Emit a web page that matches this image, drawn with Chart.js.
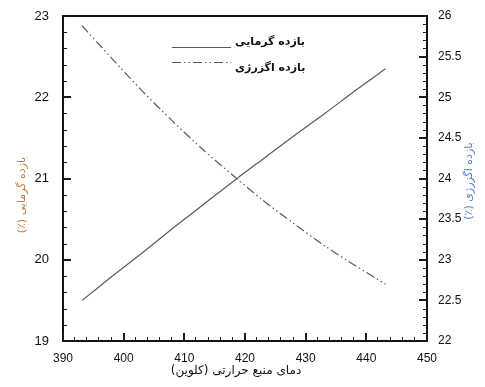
<!DOCTYPE html>
<html>
<head>
<meta charset="utf-8">
<script src="https://cdn.jsdelivr.net/npm/chart.js@4.4.0/dist/chart.umd.min.js"></script>
<style>
html,body{margin:0;padding:0;background:#fff;}
#wrap{width:485px;height:387px;}
</style>
</head>
<body>
<div id="wrap"><canvas id="c" width="485" height="387"></canvas></div>
<script>
// ---- data ----
const temperatures = [393.15, 398.15, 403.15, 408.15, 413.15, 418.15, 423.15, 428.15, 433.15, 438.15, 443.15];
const thermalEfficiency = [19.50, 19.80, 20.09, 20.39, 20.68, 20.97, 21.25, 21.53, 21.80, 22.08, 22.35];
const exergyEfficiency = [25.88, 25.47, 25.07, 24.70, 24.35, 24.03, 23.72, 23.44, 23.17, 22.93, 22.70];
const seriesLabels = ['بازده گرمایی', 'بازده اگزرژی'];
const xTitle = 'دمای منبع حرارتی (کلوین)';
const yLeftTitle = 'بازده گرمایی (٪)';
const yRightTitle = 'بازده اگزرژی (٪)';
const xTicks = {min: 390, max: 450, major: 10, minor: 2};
const yLeftTicks = {min: 19, max: 23, major: 1, minor: 0.2};
const yRightTicks = {min: 22, max: 26, major: 0.5, minor: 0.1};

const LINE = '#5a5a5a';
const ARFONT = '"DejaVu Sans", sans-serif';
const NUMFONT = '"Liberation Sans", Arial, sans-serif';

const pts = (xs, ys) => xs.map((x, i) => ({x: x, y: ys[i]}));

function tickValues(cfg) {
  const out = [];
  const n = Math.round((cfg.max - cfg.min) / cfg.minor);
  const per = Math.round(cfg.major / cfg.minor);
  for (let i = 0; i <= n; i++) out.push({v: cfg.min + i * cfg.minor, major: i % per === 0});
  return out;
}

const framePlugin = {
  id: 'frameTicks',
  beforeDraw(chart) {
    const ctx = chart.ctx;
    ctx.save();
    ctx.fillStyle = '#fff';
    ctx.fillRect(0, 0, chart.width, chart.height);
    ctx.restore();
  },
  afterDraw(chart) {
    const ctx = chart.ctx;
    const a = chart.chartArea;
    const sx = chart.scales.x, yl = chart.scales.y, yr = chart.scales.y1;
    ctx.save();
    ctx.setLineDash([]);
    ctx.strokeStyle = '#111';
    ctx.lineWidth = 2;
    ctx.strokeRect(a.left, a.top, a.right - a.left, a.bottom - a.top);
    // inward tick marks
    ctx.fillStyle = '#1a1a1a';
    const L = Math.round(a.left), R = Math.round(a.right), B = Math.round(a.bottom);
    tickValues(xTicks).forEach(t => {
      const p = Math.round(sx.getPixelForValue(t.v));
      if (t.major) ctx.fillRect(p - 1, B - 8, 2, 8);
      else ctx.fillRect(p - 1, B - 4, 1, 4);
    });
    tickValues(yLeftTicks).forEach(t => {
      const p = Math.round(yl.getPixelForValue(t.v));
      if (t.major) ctx.fillRect(L, p - 1, 8, 2);
      else ctx.fillRect(L, p, 4, 1);
    });
    tickValues(yRightTicks).forEach(t => {
      const p = Math.round(yr.getPixelForValue(t.v));
      if (t.major) ctx.fillRect(R - 8, p - 1, 8, 2);
      else ctx.fillRect(R - 4, p, 4, 1);
    });

    // titles (RTL text)
    ctx.direction = 'rtl';
    ctx.textBaseline = 'middle';
    ctx.textAlign = 'center';
    ctx.font = '12px ' + ARFONT;
    ctx.fillStyle = '#111';
    ctx.fillText(xTitle, 236, 371);

    ctx.font = '11px ' + ARFONT;
    ctx.save();
    ctx.translate(22, 195);
    ctx.rotate(-Math.PI / 2);
    ctx.fillStyle = '#c27a3e';
    ctx.fillText(yLeftTitle, 0, 0);
    ctx.restore();

    ctx.save();
    ctx.translate(469, 181);
    ctx.rotate(-Math.PI / 2);
    ctx.fillStyle = '#4f7fbf';
    ctx.fillText(yRightTitle, 0, 0);
    ctx.restore();

    // legend
    const ds = chart.data.datasets;
    const rows = [{ly: 47.5, ty: 42.5}, {ly: 62.5, ty: 68}];
    ds.forEach((d, i) => {
      ctx.save();
      ctx.strokeStyle = d.borderColor;
      ctx.lineWidth = d.borderWidth;
      ctx.setLineDash(d.borderDash || []);
      ctx.beginPath();
      ctx.moveTo(172, rows[i].ly); ctx.lineTo(231, rows[i].ly);
      ctx.stroke();
      ctx.restore();
      ctx.font = 'bold 11px ' + ARFONT;
      ctx.fillStyle = '#111';
      ctx.textAlign = 'left';
      ctx.fillText(d.label, 235, rows[i].ty);
    });
    ctx.restore();
  }
};

const fmt = v => String(Math.round(v * 10) / 10);

new Chart(document.getElementById('c'), {
  type: 'line',
  data: {
    datasets: [
      {label: seriesLabels[0], data: pts(temperatures, thermalEfficiency), yAxisID: 'y',
       borderColor: LINE, borderWidth: 1.2, pointRadius: 0, tension: 0.3, fill: false},
      {label: seriesLabels[1], data: pts(temperatures, exergyEfficiency), yAxisID: 'y1',
       borderColor: LINE, borderWidth: 1.2, borderDash: [9, 3, 1.5, 3, 1.5, 3], pointRadius: 0, tension: 0.3, fill: false}
    ]
  },
  options: {
    responsive: false,
    devicePixelRatio: 1,
    animation: false,
    layout: {padding: {top: 16, left: 0, right: 0, bottom: 0}},
    plugins: {legend: {display: false}, tooltip: {enabled: false}},
    scales: {
      x: {type: 'linear', min: xTicks.min, max: xTicks.max,
          grid: {display: false}, border: {display: false},
          ticks: {stepSize: xTicks.major, padding: 2, color: '#111', font: {family: NUMFONT, size: 12}, maxRotation: 0, callback: fmt},
          afterFit(s) { s.height = 46; }},
      y: {type: 'linear', position: 'left', min: yLeftTicks.min, max: yLeftTicks.max,
          grid: {display: false}, border: {display: false},
          ticks: {stepSize: yLeftTicks.major, padding: 6, color: '#111', font: {family: NUMFONT, size: 13}, callback: fmt},
          afterFit(s) { s.width = 63; }},
      y1: {type: 'linear', position: 'right', min: yRightTicks.min, max: yRightTicks.max,
          grid: {display: false}, border: {display: false},
          ticks: {stepSize: yRightTicks.major, padding: 3, color: '#111', font: {family: NUMFONT, size: 12}, callback: fmt},
          afterFit(s) { s.width = 58; }}
    }
  },
  plugins: [framePlugin]
});
</script>
</body>
</html>
